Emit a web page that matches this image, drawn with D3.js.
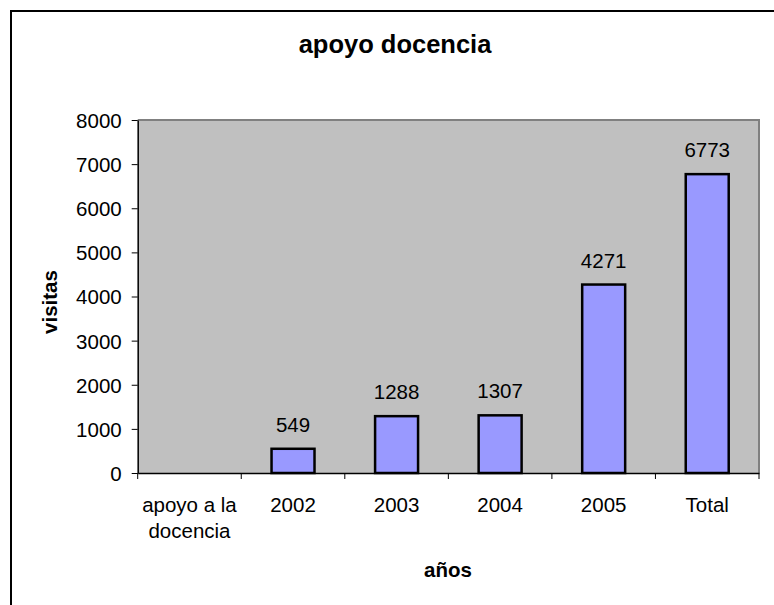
<!DOCTYPE html>
<html>
<head>
<meta charset="utf-8">
<script src="https://cdn.jsdelivr.net/npm/d3@7"></script>
<style>
  body { margin: 0; background: #fff; }
  text { font-family: "Liberation Sans", Arial, sans-serif; fill: #000; }
</style>
</head>
<body>
<script>
// data
var categories = [["apoyo a la", "docencia"], ["2002"], ["2003"], ["2004"], ["2005"], ["Total"]];
var visitas = [null, 549, 1288, 1307, 4271, 6773];
var yTicks = [0, 1000, 2000, 3000, 4000, 5000, 6000, 7000, 8000];

var width = 774, height = 605;
var plot = {left: 137.7, right: 759, top: 120, bottom: 473};
var fs = "20.5px";

var svg = d3.select("body").append("svg")
    .attr("width", width)
    .attr("height", height);

// chart area border (cut off on the right and bottom)
svg.append("rect")
    .attr("x", 11).attr("y", 11)
    .attr("width", 800).attr("height", 700)
    .attr("fill", "#fff")
    .attr("stroke", "#000")
    .attr("stroke-width", 2);

var keys = categories.map(function(c, i){ return "c" + i; });

var x = d3.scaleBand()
    .domain(keys)
    .range([plot.left, plot.right])
    .paddingInner(0.585)
    .paddingOuter(0.2925);

var xCat = d3.scaleBand()
    .domain(keys)
    .range([plot.left, plot.right])
    .padding(0);

var y = d3.scaleLinear()
    .domain([0, 8000])
    .range([plot.bottom, plot.top]);

// plot area
svg.append("rect")
    .attr("x", plot.left).attr("y", plot.top)
    .attr("width", plot.right - plot.left)
    .attr("height", plot.bottom - plot.top)
    .attr("fill", "#c0c0c0");

svg.append("path")
    .attr("d", "M" + plot.left + "," + plot.top + "H" + plot.right + "V" + plot.bottom)
    .attr("fill", "none")
    .attr("stroke", "#808080")
    .attr("stroke-width", 2);

// bars
keys.forEach(function(k, i){
    var v = visitas[i];
    if(v == null) return;
    svg.append("rect")
        .attr("x", x(k))
        .attr("y", y(v))
        .attr("width", x.bandwidth())
        .attr("height", y(0) - y(v))
        .attr("fill", "#9999ff")
        .attr("stroke", "#000")
        .attr("stroke-width", 2.5);

    svg.append("text")
        .attr("x", x(k) + x.bandwidth() / 2)
        .attr("y", y(v) - 17)
        .attr("text-anchor", "middle")
        .style("font-size", fs)
        .text(v);
});

// y axis
var yAxis = svg.append("g")
    .attr("transform", "translate(" + plot.left + ",0)")
    .call(d3.axisLeft(y).tickValues(yTicks).tickFormat(d3.format("d"))
        .tickSize(6).tickPadding(10).tickSizeOuter(0));
yAxis.select(".domain").attr("stroke", "#000").attr("stroke-width", 1.5);
yAxis.selectAll("line").attr("stroke", "#000");
yAxis.selectAll("text")
    .style("font-size", fs)
    .style("font-family", "Liberation Sans, Arial, sans-serif")
    .attr("dy", "0.36em");

// x axis: ticks on category boundaries
var xAxis = svg.append("g")
    .attr("transform", "translate(0," + plot.bottom + ")")
    .call(d3.axisBottom(xCat).tickSize(0).tickFormat(""));
xAxis.select(".domain").attr("stroke", "#000").attr("stroke-width", 1.5);

var bounds = keys.map(function(k){ return xCat(k); }).concat([plot.right]);
xAxis.selectAll("line.bound")
    .data(bounds)
    .enter().append("line")
    .attr("class", "bound")
    .attr("x1", function(d){ return d; })
    .attr("x2", function(d){ return d; })
    .attr("y1", 0).attr("y2", 6)
    .attr("stroke", "#000");

keys.forEach(function(k, i){
    var t = svg.append("text")
        .attr("x", xCat(k) + xCat.bandwidth() / 2)
        .attr("y", 512)
        .attr("text-anchor", "middle")
        .style("font-size", fs);
    categories[i].forEach(function(line, j){
        t.append("tspan")
            .attr("x", xCat(k) + xCat.bandwidth() / 2)
            .attr("dy", j == 0 ? 0 : 26)
            .text(line);
    });
});

// titles
svg.append("text")
    .attr("x", 395).attr("y", 53)
    .attr("text-anchor", "middle")
    .style("font-size", "25.5px")
    .style("font-weight", "bold")
    .text("apoyo docencia");

svg.append("text")
    .attr("transform", "translate(57,302) rotate(-90)")
    .attr("text-anchor", "middle")
    .style("font-size", fs)
    .style("font-weight", "bold")
    .text("visitas");

svg.append("text")
    .attr("x", 448).attr("y", 577)
    .attr("text-anchor", "middle")
    .style("font-size", fs)
    .style("font-weight", "bold")
    .text("años");
</script>
</body>
</html>
